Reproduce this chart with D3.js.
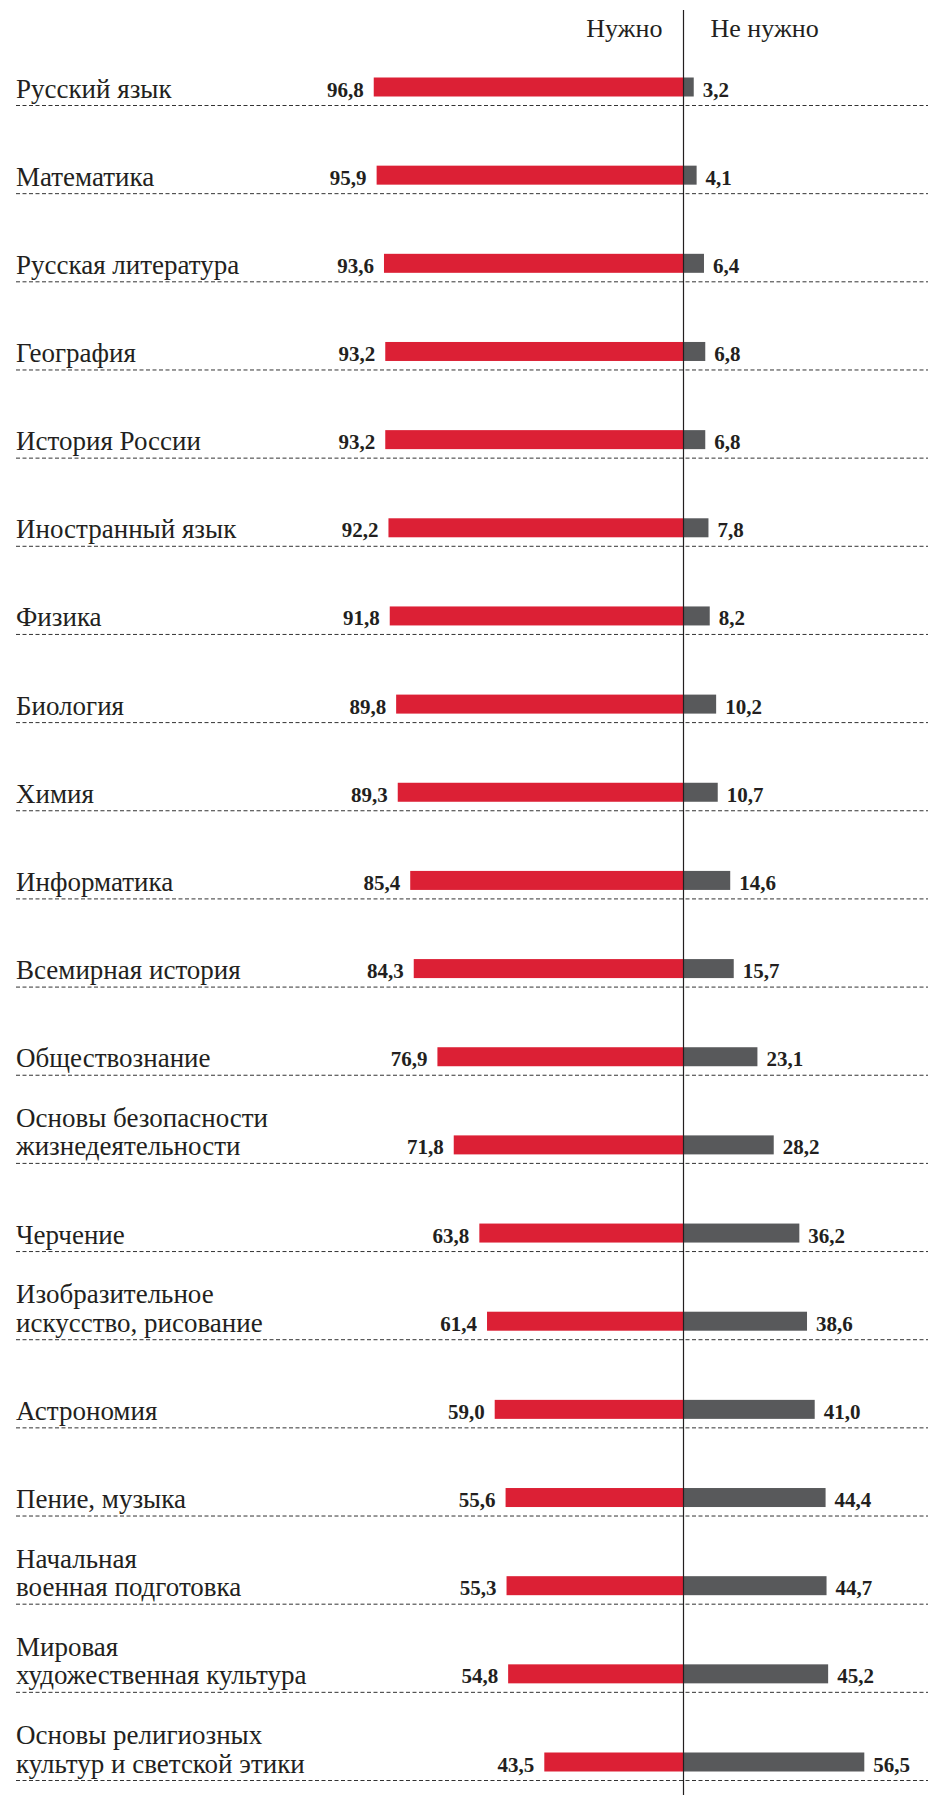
<!DOCTYPE html>
<html>
<head>
<meta charset="utf-8">
<script src="https://cdn.jsdelivr.net/npm/d3@7"></script>
<style>
  body { margin: 0; background: #fff; }
  svg text { font-family: "Liberation Serif", "Times New Roman", "DejaVu Serif", serif; fill: #231f20; }
</style>
</head>
<body>
<svg id="chart" width="928" height="1795"></svg>
<script>
// data
const categories = [
  "Русский язык", "Математика", "Русская литература", "География", "История России",
  "Иностранный язык", "Физика", "Биология", "Химия", "Информатика",
  "Всемирная история", "Обществознание", "Основы безопасности\nжизнедеятельности", "Черчение",
  "Изобразительное\nискусство, рисование", "Астрономия", "Пение, музыка",
  "Начальная\nвоенная подготовка", "Мировая\nхудожественная культура",
  "Основы религиозных\nкультур и светской этики"
]
const needed = [96.8, 95.9, 93.6, 93.2, 93.2, 92.2, 91.8, 89.8, 89.3, 85.4, 84.3, 76.9, 71.8, 63.8, 61.4, 59.0, 55.6, 55.3, 54.8, 43.5]
const notNeeded = [3.2, 4.1, 6.4, 6.8, 6.8, 7.8, 8.2, 10.2, 10.7, 14.6, 15.7, 23.1, 28.2, 36.2, 38.6, 41.0, 44.4, 44.7, 45.2, 56.5]
const headers = ["Нужно", "Не нужно"]

const rows = categories.map((c, i) => ({ cat: c, yes: needed[i], no: notNeeded[i] }))

const svg = d3.select("#chart")
const cx = 683.5
const x = d3.scaleLinear().domain([0, 100]).range([0, 320])
const y = d3.scalePoint().domain(categories).range([105.5, 1780.5])
const fmt = v => d3.format(".1f")(v).replace(".", ",")

// dashed row lines
svg.append("g").selectAll("line")
  .data(rows).join("line")
  .attr("x1", 16).attr("x2", 928)
  .attr("y1", d => y(d.cat)).attr("y2", d => y(d.cat))
  .attr("stroke", "#333").attr("stroke-width", 1)
  .attr("stroke-dasharray", "4,2.5")

// category labels, some on two lines
const labels = svg.append("g").selectAll("text")
  .data(rows).join("text")
  .attr("x", 16)
  .attr("font-size", 27)
labels.each(function (d) {
  var parts = d.cat.split("\n")
  var base = y(d.cat) - 8
  d3.select(this).selectAll("tspan")
    .data(parts).join("tspan")
    .attr("x", 16)
    .attr("y", (p, j) => base - (parts.length - 1 - j) * 28.5)
    .text(p => p)
})

// bars
svg.append("g").selectAll("rect")
  .data(rows).join("rect")
  .attr("x", d => cx - x(d.yes)).attr("y", d => y(d.cat) - 28)
  .attr("width", d => x(d.yes)).attr("height", 19)
  .attr("fill", "#dc2035")

svg.append("g").selectAll("rect")
  .data(rows).join("rect")
  .attr("x", cx).attr("y", d => y(d.cat) - 28)
  .attr("width", d => x(d.no)).attr("height", 19)
  .attr("fill", "#58595b")

// value labels
svg.append("g").selectAll("text")
  .data(rows).join("text")
  .attr("x", d => cx - x(d.yes) - 10).attr("y", d => y(d.cat) - 9)
  .attr("text-anchor", "end")
  .attr("font-size", 21).attr("font-weight", "bold")
  .text(d => fmt(d.yes))

svg.append("g").selectAll("text")
  .data(rows).join("text")
  .attr("x", d => cx + x(d.no) + 9).attr("y", d => y(d.cat) - 9)
  .attr("font-size", 21).attr("font-weight", "bold")
  .text(d => fmt(d.no))

// center line
svg.append("line")
  .attr("x1", cx).attr("x2", cx).attr("y1", 10).attr("y2", 1795)
  .attr("stroke", "#231f20").attr("stroke-width", 1.2)

// headers
svg.append("text").attr("x", cx - 21).attr("y", 37).attr("text-anchor", "end")
  .attr("font-size", 26).text(headers[0])
svg.append("text").attr("x", cx + 27).attr("y", 37)
  .attr("font-size", 26).text(headers[1])
</script>
</body>
</html>
